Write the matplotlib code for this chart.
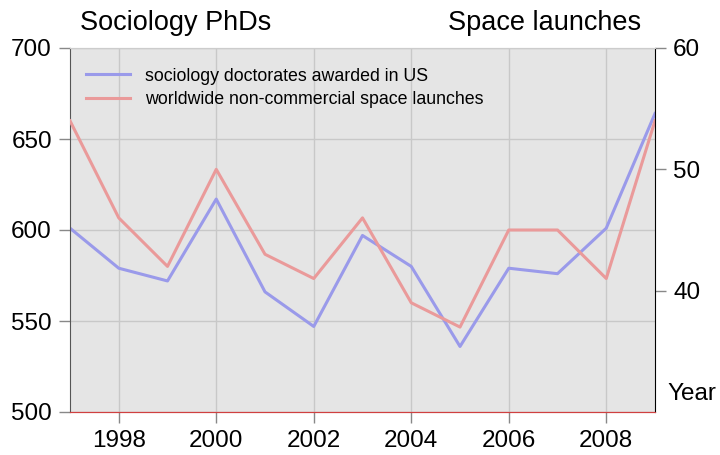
import matplotlib
matplotlib.use("Agg")
import matplotlib.pyplot as plt

plt.rcParams["font.family"] = ["Liberation Sans", "DejaVu Sans"]

years = [1997, 1998, 1999, 2000, 2001, 2002, 2003, 2004, 2005, 2006, 2007, 2008, 2009]
sociology = [601, 579, 572, 617, 566, 547, 597, 580, 536, 579, 576, 601, 664]
launches = [54, 46, 42, 50, 43, 41, 46, 39, 37, 45, 45, 41, 54]

blue = "#9a9aea"
red = "#ea9a9a"

fig = plt.figure(figsize=(7.2, 4.55), dpi=100)
ax = fig.add_axes([70 / 720, 1 - 412 / 455, 585 / 720, 364 / 455])
ax2 = ax.twinx()

ax.set_facecolor("#e5e5e5")
l1, = ax.plot(years, sociology, color=blue, lw=2.2, label="sociology doctorates awarded in US")
l2, = ax2.plot(years, launches, color=red, lw=2.2, label="worldwide non-commercial space launches")

ax.set_xlim(1997, 2009)
ax.set_ylim(500, 700)
ax2.set_ylim(30, 60)
ax.set_xticks([1998, 2000, 2002, 2004, 2006, 2008])
ax.set_yticks([500, 550, 600, 650, 700])
ax2.set_yticks([40, 50, 60])

ax.grid(True, color="#c8c8c8", lw=1)
ax.set_axisbelow(True)

for a in (ax, ax2):
    a.tick_params(labelsize=17.5, length=8, width=1, color="#888888", pad=5)
ax.spines["left"].set_color("#555555")
ax.spines["top"].set_color("#cccccc")
ax2.spines["top"].set_color("#cccccc")
ax2.spines["right"].set_color("black")
ax2.spines["left"].set_visible(False)
ax.spines["right"].set_visible(False)
ax.spines["bottom"].set_color("#d04040")
ax2.spines["bottom"].set_color("#d04040")

fig.text(80 / 720, 1 - 23 / 455, "Sociology PhDs", fontsize=19.5, va="center", ha="left")
fig.text(641 / 720, 1 - 23 / 455, "Space launches", fontsize=19.5, va="center", ha="right")
fig.text(667 / 720, 1 - 394 / 455, "Year", fontsize=17.5, va="center", ha="left")

ax.legend(handles=[l1, l2], loc="upper left", frameon=False, fontsize=12.8,
          handlelength=2.5, handletextpad=0.8, bbox_to_anchor=(0.0, 0.99),
          labelspacing=0.35)

fig.savefig("out.png", dpi=100)
